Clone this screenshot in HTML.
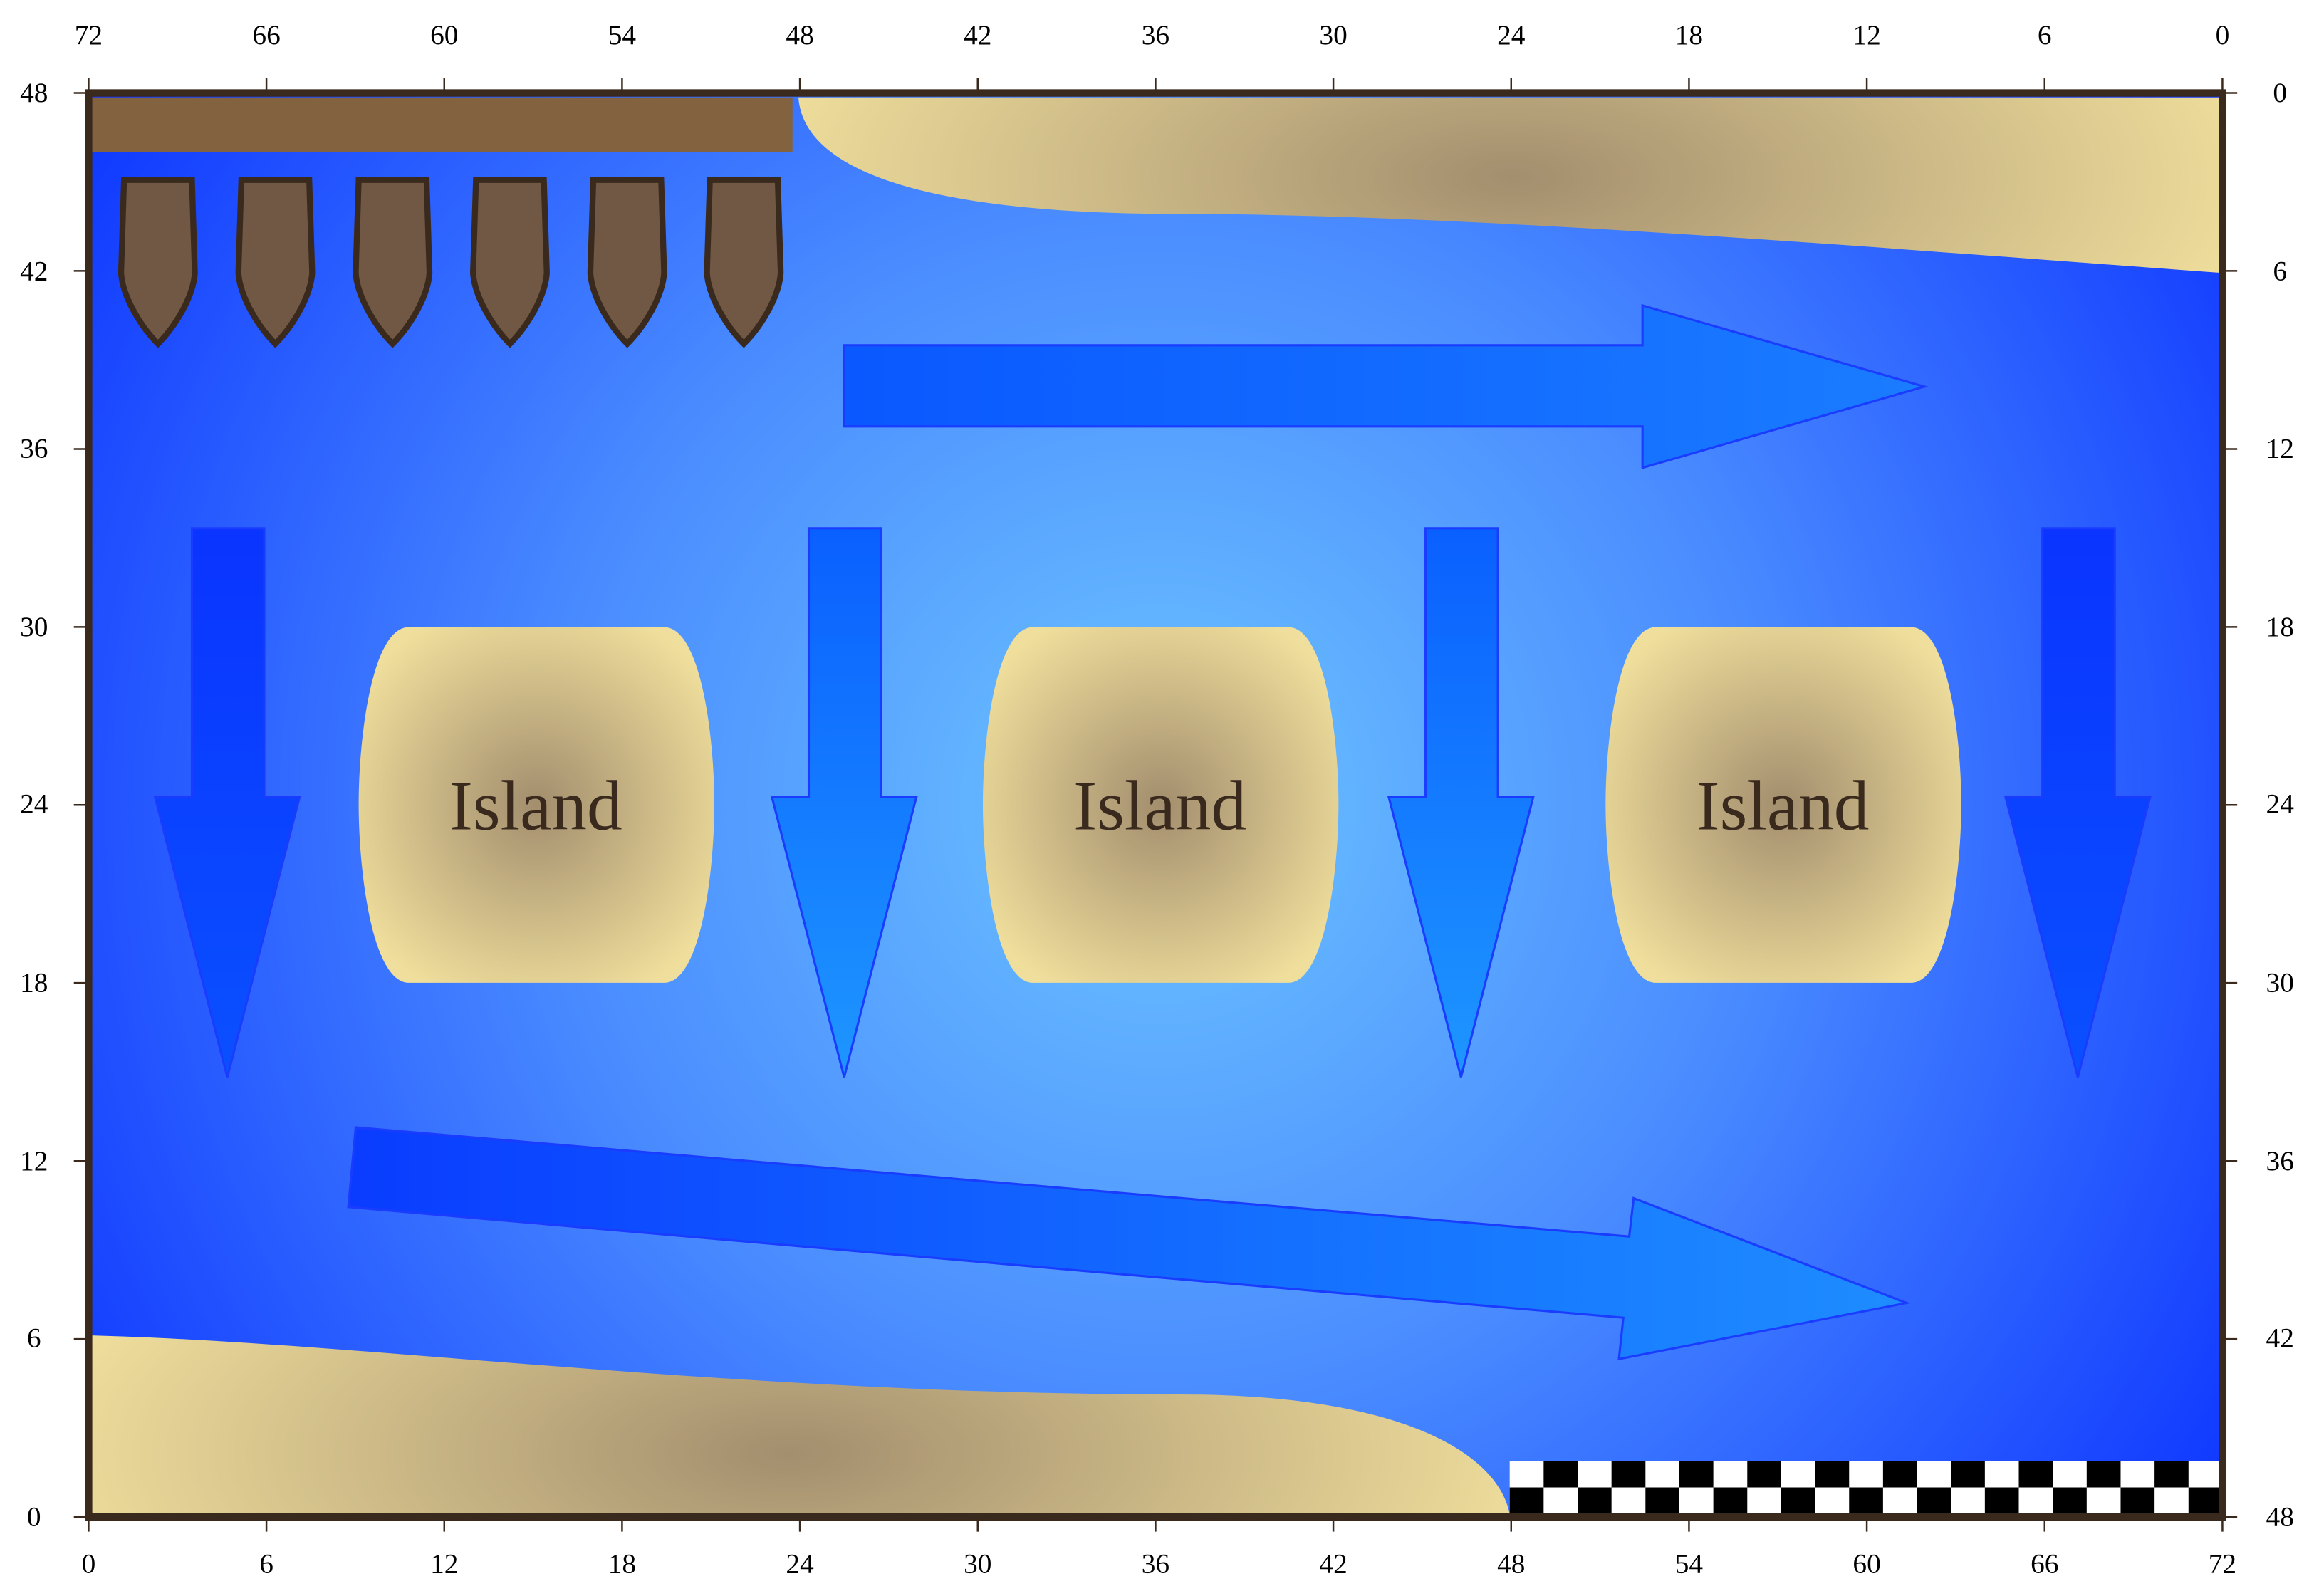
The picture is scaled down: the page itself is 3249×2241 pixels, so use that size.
<!DOCTYPE html>
<html><head><meta charset="utf-8"><style>html,body{margin:0;padding:0;background:#fff}svg{display:block}</style></head>
<body>
<svg width="3249" height="2241" viewBox="0 0 1568 1081.6" xmlns="http://www.w3.org/2000/svg">
<defs>
<radialGradient id="sea" cx="785" cy="545" r="900" gradientUnits="userSpaceOnUse">
<stop offset="0" stop-color="#6cc4ff"/><stop offset="0.45" stop-color="#4a8cff"/><stop offset="1" stop-color="#0a30ff"/></radialGradient>
<radialGradient id="sandT" cx="1025" cy="120" r="520" gradientUnits="userSpaceOnUse" gradientTransform="translate(1025 120) scale(1 0.4) translate(-1025 -120)">
<stop offset="0" stop-color="#a38e6e"/><stop offset="1" stop-color="#f0df9c"/></radialGradient>
<radialGradient id="sandB" cx="535" cy="985" r="520" gradientUnits="userSpaceOnUse" gradientTransform="translate(535 985) scale(1 0.4) translate(-535 -985)">
<stop offset="0" stop-color="#a38e6e"/><stop offset="1" stop-color="#f0df9c"/></radialGradient>
<radialGradient id="isl" cx="0.5" cy="0.5" r="0.6">
<stop offset="0" stop-color="#a38e6e"/><stop offset="1" stop-color="#f0df9c"/></radialGradient>
<linearGradient id="arH" x1="0" y1="0" x2="1" y2="0"><stop offset="0" stop-color="#0a58ff"/><stop offset="1" stop-color="#1a7cff"/></linearGradient>
<linearGradient id="arB" x1="0" y1="0" x2="1" y2="0"><stop offset="0" stop-color="#0a3cff"/><stop offset="0.6" stop-color="#1470ff"/><stop offset="1" stop-color="#1e8cff"/></linearGradient>
<linearGradient id="d1" x1="0" y1="0" x2="0" y2="1"><stop offset="0" stop-color="#0a34ff"/><stop offset="1" stop-color="#0a50ff"/></linearGradient>
<linearGradient id="d2" x1="0" y1="0" x2="0" y2="1"><stop offset="0" stop-color="#0a60ff"/><stop offset="1" stop-color="#1e96ff"/></linearGradient>
</defs>
<rect x="60" y="63" width="1446" height="965" fill="url(#sea)"/>
<rect x="62" y="66" width="475" height="37" fill="#83623f"/>
<path d="M541,66 C545,120 640,145 800,145 C1000,145 1300,170 1506,185 L1506,66 Z" fill="url(#sandT)"/>
<path d="M62,905 C250,910 500,945 800,945 C950,945 1015,985 1023,1026 L62,1026 Z" fill="url(#sandB)"/>
<g fill="#705844" stroke="#3a2a1e" stroke-width="4">
<path id="sh" d="M84,122 L130,122 L132,185 C131,200 120,220 107,233 C94,220 83,200 82,185 Z"/>
<use href="#sh" x="79.5"/><use href="#sh" x="159"/><use href="#sh" x="238.5"/><use href="#sh" x="318"/><use href="#sh" x="397"/>
</g>
<g stroke="#1a3cff" stroke-width="1.5">
<path d="M572,234 L1113,234 L1113,207 L1304,262 L1113,317 L1113,289 L572,289 Z" fill="url(#arH)"/>
<path d="M241,764 L1104,838 L1107,812 L1292,883 L1097,921 L1100,893 L236,818 Z" fill="url(#arB)"/>
<path d="M130,358 L179,358 L179,540 L203,540 L154,730 L105,540 L130,540 Z" fill="url(#d1)"/>
<path d="M548,358 L597,358 L597,540 L621,540 L572,730 L523,540 L548,540 Z" fill="url(#d2)"/>
<path d="M966,358 L1015,358 L1015,540 L1039,540 L990,730 L941,540 L966,540 Z" fill="url(#d2)"/>
<path d="M1384,358 L1433,358 L1433,540 L1457,540 L1408,730 L1359,540 L1384,540 Z" fill="url(#d1)"/>
</g>
<g fill="url(#isl)">
<path d="M277,425 L450,425 C475,425 484,500 484,545 C484,590 475,666 450,666 L277,666 C252,666 243,590 243,545 C243,500 252,425 277,425Z"/>
<path d="M700,425 L873,425 C898,425 907,500 907,545 C907,590 898,666 873,666 L700,666 C675,666 666,590 666,545 C666,500 675,425 700,425Z"/>
<path d="M1122,425 L1295,425 C1320,425 1329,500 1329,545 C1329,590 1320,666 1295,666 L1122,666 C1097,666 1088,590 1088,545 C1088,500 1097,425 1122,425Z"/>
</g>
<g font-family="Liberation Serif, serif" font-size="48" fill="#3a2a1e" text-anchor="middle">
<text x="363" y="562">Island</text><text x="786" y="562">Island</text><text x="1208" y="562">Island</text>
</g>
<rect x="1023" y="990" width="482" height="36" fill="#fff"/>
<g fill="#000">
<rect x="1046" y="990" width="23" height="18"/><rect x="1092" y="990" width="23" height="18"/><rect x="1138" y="990" width="23" height="18"/><rect x="1184" y="990" width="23" height="18"/><rect x="1230" y="990" width="23" height="18"/><rect x="1276" y="990" width="23" height="18"/><rect x="1322" y="990" width="23" height="18"/><rect x="1368" y="990" width="23" height="18"/><rect x="1414" y="990" width="23" height="18"/><rect x="1460" y="990" width="23" height="18"/>
<rect x="1023" y="1008" width="23" height="18"/><rect x="1069" y="1008" width="23" height="18"/><rect x="1115" y="1008" width="23" height="18"/><rect x="1161" y="1008" width="23" height="18"/><rect x="1207" y="1008" width="23" height="18"/><rect x="1253" y="1008" width="23" height="18"/><rect x="1299" y="1008" width="23" height="18"/><rect x="1345" y="1008" width="23" height="18"/><rect x="1391" y="1008" width="23" height="18"/><rect x="1437" y="1008" width="23" height="18"/><rect x="1483" y="1008" width="22" height="18"/>
</g>
<rect x="60" y="63" width="1446" height="965" fill="none" stroke="#3a2a1e" stroke-width="5"/>
<g stroke="#3a2a1e" stroke-width="1.2">
<path d="M60,53V63M180.5,53V63M301,53V63M421.5,53V63M542,53V63M662.5,53V63M783,53V63M903.5,53V63M1024,53V63M1144.5,53V63M1265,53V63M1385.5,53V63M1506,53V63"/>
<path d="M60,1028V1038M180.5,1028V1038M301,1028V1038M421.5,1028V1038M542,1028V1038M662.5,1028V1038M783,1028V1038M903.5,1028V1038M1024,1028V1038M1144.5,1028V1038M1265,1028V1038M1385.5,1028V1038M1506,1028V1038"/>
<path d="M50,63H60M50,183.6H60M50,304.3H60M50,424.9H60M50,545.5H60M50,666.1H60M50,786.8H60M50,907.4H60M50,1028H60"/>
<path d="M1506,63H1516M1506,183.6H1516M1506,304.3H1516M1506,424.9H1516M1506,545.5H1516M1506,666.1H1516M1506,786.8H1516M1506,907.4H1516M1506,1028H1516"/>
</g>
<g font-family="Liberation Serif, serif" font-size="19" fill="#000" text-anchor="middle">
<text x="60" y="30">72</text><text x="180.5" y="30">66</text><text x="301" y="30">60</text><text x="421.5" y="30">54</text><text x="542" y="30">48</text><text x="662.5" y="30">42</text><text x="783" y="30">36</text><text x="903.5" y="30">30</text><text x="1024" y="30">24</text><text x="1144.5" y="30">18</text><text x="1265" y="30">12</text><text x="1385.5" y="30">6</text><text x="1506" y="30">0</text>
<text x="60" y="1066">0</text><text x="180.5" y="1066">6</text><text x="301" y="1066">12</text><text x="421.5" y="1066">18</text><text x="542" y="1066">24</text><text x="662.5" y="1066">30</text><text x="783" y="1066">36</text><text x="903.5" y="1066">42</text><text x="1024" y="1066">48</text><text x="1144.5" y="1066">54</text><text x="1265" y="1066">60</text><text x="1385.5" y="1066">66</text><text x="1506" y="1066">72</text>
</g>
<g font-family="Liberation Serif, serif" font-size="19" fill="#000" text-anchor="middle">
<text x="23" y="69">48</text><text x="23" y="190">42</text><text x="23" y="310">36</text><text x="23" y="431">30</text><text x="23" y="551">24</text><text x="23" y="672">18</text><text x="23" y="793">12</text><text x="23" y="913">6</text><text x="23" y="1034">0</text>
<text x="1545" y="69">0</text><text x="1545" y="190">6</text><text x="1545" y="310">12</text><text x="1545" y="431">18</text><text x="1545" y="551">24</text><text x="1545" y="672">30</text><text x="1545" y="793">36</text><text x="1545" y="913">42</text><text x="1545" y="1034">48</text>
</g>
</svg>
</body></html>
